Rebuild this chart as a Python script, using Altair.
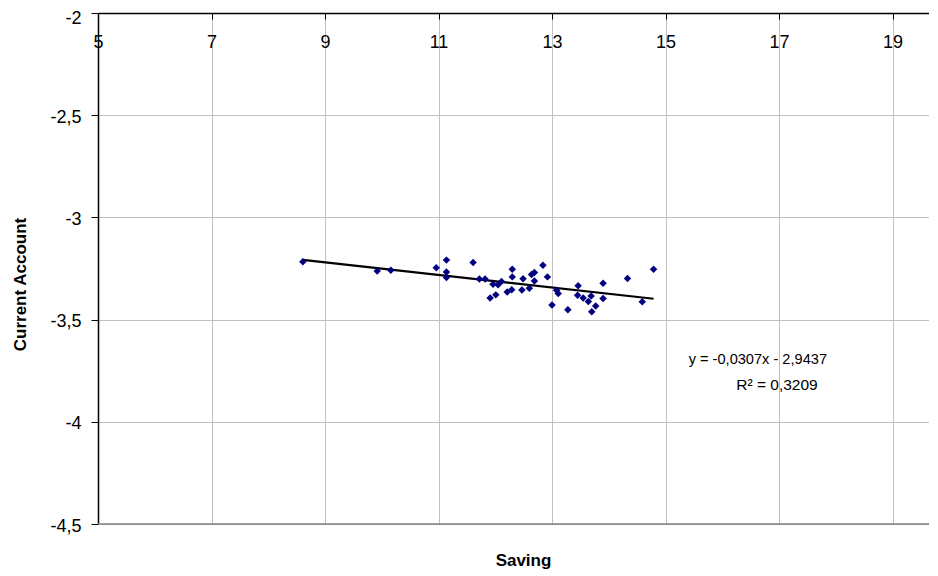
import altair as alt
import pandas as pd

# Values
saving = [8.61, 9.92, 10.16, 10.96, 11.14, 11.14, 11.14, 11.61, 11.72, 11.82,
          11.91, 11.96, 12.01, 12.05, 12.11, 12.21, 12.29, 12.30, 12.30, 12.47,
          12.49, 12.60, 12.64, 12.69, 12.69, 12.84, 12.92, 13.00, 13.08, 13.11,
          13.28, 13.46, 13.45, 13.55, 13.64, 13.69, 13.70, 13.77, 13.90, 13.90,
          14.33, 14.59, 14.79]
current_account = [-3.217, -3.262, -3.259, -3.246, -3.209, -3.267, -3.294, -3.221, -3.301, -3.301,
                   -3.394, -3.327, -3.379, -3.330, -3.313, -3.365, -3.354, -3.254, -3.291, -3.355,
                   -3.300, -3.347, -3.279, -3.269, -3.311, -3.234, -3.291, -3.428, -3.357, -3.372,
                   -3.452, -3.334, -3.381, -3.394, -3.411, -3.384, -3.462, -3.433, -3.322, -3.397,
                   -3.299, -3.413, -3.254]
trend_x = [8.61, 14.79]
trend_y = [-3.208, -3.398]
x_ticks = [5, 7, 9, 11, 13, 15, 17, 19]
y_ticks = [-2, -2.5, -3, -3.5, -4, -4.5]
annotation = ["y = -0,0307x - 2,9437", "R² = 0,3209"]

FONT = "Liberation Sans"
TOP = 5
W, H = 831, 511

pts = pd.DataFrame({"Saving": saving, "Current Account": current_account})
trend = pd.DataFrame({"Saving": trend_x, "Current Account": trend_y})
one = pd.DataFrame({"k": [0]})

xscale = alt.Scale(domain=[5, 19.643], nice=False, zero=False)
yscale = alt.Scale(domain=[-4.5, -2], nice=False, zero=False)

xaxis = alt.Axis(orient="bottom", offset=-H, values=x_ticks, title="Saving",
                 titleX=425, titleY=552, titleBaseline="alphabetic", titleAlign="center",
                 titleFontWeight="bold", titleFontSize=17, titleFont=FONT, titleColor="black",
                 labelFont=FONT, labelFontSize=18, labelColor="black", labelPadding=14,
                 labelFlush=False, labelOverlap=False, labelExpr="toString(datum.value)",
                 tickSize=6, tickColor="black", domainColor="black", domainWidth=1.5,
                 grid=True, gridColor="#c0c0c0", gridWidth=1)
yaxis = alt.Axis(values=y_ticks, title="Current Account",
                 titleX=-78, titleY=271, titleAngle=-90, titleBaseline="middle", titleAlign="center",
                 titleFontWeight="bold", titleFontSize=17, titleFont=FONT, titleColor="black",
                 labelFont=FONT, labelFontSize=18, labelColor="black", labelPadding=10,
                 labelOffset={"condition": {"test": "datum.value == -2", "value": 5}, "value": 2},
                 labelFlush=False, labelOverlap=False,
                 labelExpr="replace(toString(datum.value), '.', ',')",
                 tickSize=7, tickColor="black", domainColor="black", domainWidth=1.5,
                 grid=True, gridColor="#c0c0c0", gridWidth=1)

xenc = alt.X("Saving:Q", scale=xscale, axis=xaxis)
yenc = alt.Y("Current Account:Q", scale=yscale, axis=yaxis)

points = alt.Chart(pts).mark_point(shape="diamond", filled=True, color="#000080",
                                   size=56, opacity=1).encode(x=xenc, y=yenc)
line = alt.Chart(trend).mark_line(color="black", strokeWidth=2.2).encode(x=xenc, y=yenc)
bottom = alt.Chart(one).mark_rule(color="#808080", strokeWidth=1.5).encode(
    y=alt.datum(-4.5))
ann1 = alt.Chart(one).mark_text(text=annotation[0], align="right", baseline="alphabetic",
                                font=FONT, fontSize=14.6, color="black").encode(
    x=alt.value(729), y=alt.value(351))
ann2 = alt.Chart(one).mark_text(text=annotation[1], align="center", baseline="alphabetic",
                                font=FONT, fontSize=15.5, color="black").encode(
    x=alt.value(679), y=alt.value(377))

chart = alt.layer(bottom, line, points, ann1, ann2).properties(
    width=W, height=H,
    autosize=alt.AutoSizeParams(type="none"),
    padding={"left": 90, "top": TOP, "right": 0, "bottom": 48},
).configure_view(stroke=None).configure(background="white")

chart.save("out.html", embed_options={"renderer": "svg", "actions": False})
